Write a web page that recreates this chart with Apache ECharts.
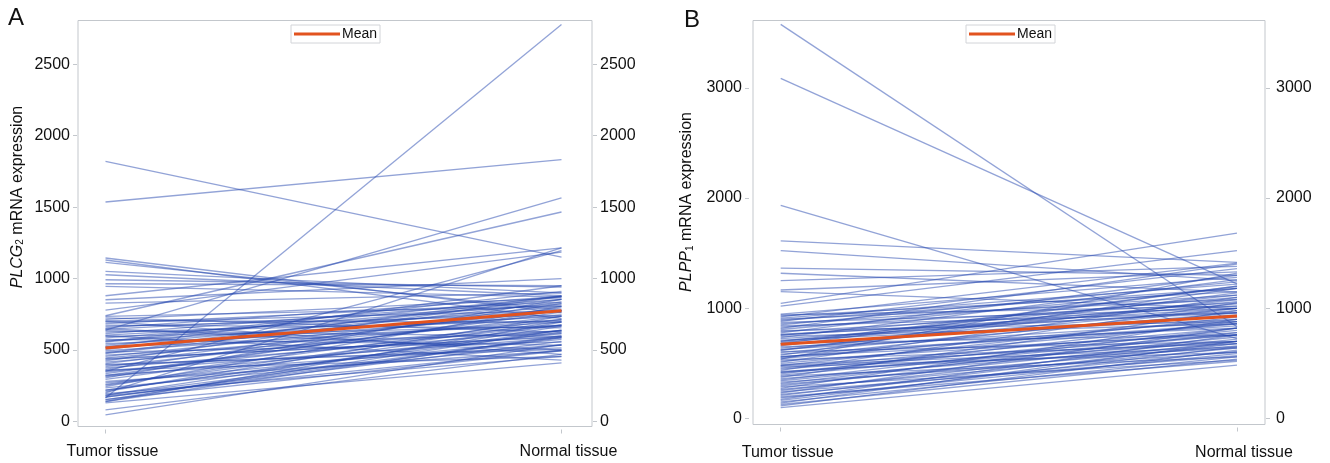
<!DOCTYPE html>
<html>
<head>
<meta charset="utf-8">
<title>PLCG2 / PLPP1 mRNA expression, tumor vs normal tissue</title>
<script src="https://cdn.jsdelivr.net/npm/echarts@6/dist/echarts.min.js"></script>
<style>
  html, body { margin: 0; padding: 0; background: #ffffff; }
  #chart { width: 1330px; height: 463px; }
</style>
</head>
<body>
<div id="chart"></div>
<script>
// Paired samples: each index is one patient (tumor value, matched normal value)
const categories = ['Tumor tissue', 'Normal tissue'];

const plcg2Tumor = [1821, 1536, 165, 1144, 1130, 1113, 1050, 1027, 992, 964, 945, 880, 852, 829, 640, 740, 200, 350, 780,
  47, 82, 131, 152, 170, 185,
  140, 155, 170, 185, 195, 210, 220, 235, 245, 255, 270, 280, 295, 305, 315, 325, 335, 345, 355, 365,
  375, 385, 395, 405, 415, 425, 435, 445, 455, 465, 475, 485, 495, 505, 515, 525, 535, 545, 555, 565,
  575, 585, 595, 605, 615, 625, 635, 645, 655, 665, 675, 685, 695, 705, 715, 725, 735,
  700, 650, 600, 560, 520, 480, 440, 400, 360, 320, 260, 220, 180, 140];
const plcg2Normal = [1150, 1833, 2778, 760, 720, 780, 900, 880, 940, 950, 870, 1215, 1000, 900, 1564, 1466, 1215, 1195, 1185,
  540, 470, 410, 640, 560, 590,
  695, 495, 585, 665, 455, 735, 625, 535, 805, 675, 575, 495, 715, 855, 615, 535, 765, 675, 585, 825,
  635, 735, 515, 795, 675, 875, 595, 715, 775, 635, 835, 555, 695, 855, 745, 615, 805, 675, 875, 735,
  535, 825, 665, 775, 855, 705, 595, 815, 875, 745, 655, 835, 775, 695, 865, 625, 805,
  470, 500, 430, 910, 950, 880, 590, 505, 455, 780, 700, 640, 500, 600];
const plcg2Mean = [514, 775];

const plpp1Tumor = [3575, 3085, 1933, 1612, 1524, 1364, 1318, 1251, 1166, 1151, 1045, 1020,
  100, 115, 128, 140, 152, 165, 175, 188, 198, 210, 220, 232, 242, 255, 265, 275, 288, 298, 310, 320,
  330, 342, 352, 362, 375, 385, 395, 405, 418, 428, 438, 448, 458, 470, 480, 490, 500, 512, 522, 532,
  545, 555, 565, 575, 585, 598, 608, 618, 628, 640, 650, 660, 672, 682, 692, 702, 712, 725, 735, 745,
  755, 765, 778, 788, 798, 808, 818, 830, 840, 850, 862, 872, 882, 892, 902, 912, 922, 932, 940, 948,
  560, 620, 700, 760, 480, 420, 680, 540];
const plpp1Normal = [833, 1221, 725, 1417, 1253, 1300, 1150, 1380, 1330, 1000, 1682, 1524,
  485, 620, 540, 700, 560, 650, 760, 590, 520, 680, 610, 820, 570, 700, 640, 900, 530, 720, 660, 780,
  600, 740, 820, 680, 980, 560, 760, 880, 700, 640, 1050, 760, 820, 600, 920, 700, 860, 1100, 780, 680,
  900, 1000, 760, 1180, 840, 960, 700, 1080, 880, 1000, 820, 1200, 940, 760, 1040, 1120, 900, 980, 1260, 860,
  1100, 960, 1300, 1020, 880, 1180, 1400, 1050, 960, 1240, 1120, 1000, 1360, 1180, 1080, 1220, 1410, 1150, 1020, 1280,
  860, 1140, 1060, 1000, 650, 800, 1200, 1320];
const plpp1Mean = [675, 930];

const plcg2Ticks = [0, 500, 1000, 1500, 2000, 2500];
const plpp1Ticks = [0, 1000, 2000, 3000];

const FONT = '"Liberation Sans", Arial, Helvetica, sans-serif';
const TEXT = '#111111';
const FRAME = '#c3c7cc';
const PAIR_COLOR = 'rgba(38, 72, 176, 0.5)';
const MEAN_COLOR = '#e2531f';

const chart = echarts.init(document.getElementById('chart'), null, { renderer: 'canvas' });

function xAxisFor(gridIndex, min, max, labelMargin) {
  return {
    type: 'value', gridIndex, min, max, offset: 3, position: 'bottom',
    axisLine: { show: false, onZero: false },
    splitLine: { show: false },
    axisTick: { show: true, length: 4, customValues: [0, 1], lineStyle: { color: FRAME } },
    axisLabel: {
      customValues: [0, 1],
      formatter: v => categories[Math.round(v)],
      fontSize: 16, color: TEXT, fontFamily: FONT,
      margin: labelMargin, padding: [0, 0, 0, 14]
    }
  };
}

function yAxisFor(gridIndex, position, min, max, ticks, offset, margin) {
  return {
    type: 'value', gridIndex, position, min, max, offset,
    axisLine: { show: false, onZero: false },
    splitLine: { show: false },
    axisTick: { show: true, length: 4, customValues: ticks, lineStyle: { color: FRAME } },
    axisLabel: {
      customValues: ticks, formatter: v => String(v),
      fontSize: 16, color: TEXT, fontFamily: FONT, margin
    }
  };
}

function pairSeries(tumor, normal, axisIdx, yIdx) {
  return tumor.map((t, i) => ({
    type: 'line', xAxisIndex: axisIdx, yAxisIndex: yIdx,
    data: [[0, t], [1, normal[i]]],
    symbol: 'none', silent: true, z: 2,
    lineStyle: { color: PAIR_COLOR, width: 1.3 }
  }));
}

function meanSeries(values, axisIdx, yIdx) {
  return {
    name: 'Mean', type: 'line', xAxisIndex: axisIdx, yAxisIndex: yIdx,
    data: [[0, values[0]], [1, values[1]]],
    symbol: 'none', silent: true, z: 5,
    color: MEAN_COLOR,
    lineStyle: { color: MEAN_COLOR, width: 3 }
  };
}

function legendAt(left) {
  return {
    data: ['Mean'], left, top: 25, icon: 'rect',
    itemWidth: 46, itemHeight: 3, padding: [2, 3, 2, 3],
    borderColor: '#d2d4d8', borderWidth: 1,
    selectedMode: false,
    textStyle: { fontSize: 14, color: TEXT, fontFamily: FONT, padding: [0, 0, 0, -3] }
  };
}

function axisTitle(x, y, gene, sub) {
  return {
    type: 'text', x, y, rotation: Math.PI / 2, silent: true,
    style: {
      text: '{i|' + gene + '}{s|' + sub + '}{n| mRNA expression}',
      align: 'center', verticalAlign: 'middle',
      fill: TEXT, fontFamily: FONT, fontSize: 16,
      rich: {
        i: { fontStyle: 'italic', fontSize: 16, fontFamily: FONT, lineHeight: 18 },
        s: { fontSize: 10, fontFamily: FONT, lineHeight: 18, verticalAlign: 'bottom', padding: [0, 0, 1, 0] },
        n: { fontSize: 16, fontFamily: FONT, lineHeight: 18 }
      }
    }
  };
}

const option = {
  animation: false,
  backgroundColor: '#ffffff',
  textStyle: { fontFamily: FONT },
  grid: [
    { left: 78, top: 20.5, width: 514, height: 406, show: true, borderColor: FRAME, borderWidth: 1 },
    { left: 753, top: 20.5, width: 512, height: 404, show: true, borderColor: FRAME, borderWidth: 1 }
  ],
  xAxis: [
    xAxisFor(0, -0.0603, 1.0669, 14),
    xAxisFor(1, -0.0607, 1.0614, 17)
  ],
  yAxis: [
    yAxisFor(0, 'left', -35, 2806, plcg2Ticks, 1, 7),
    yAxisFor(0, 'right', -35, 2806, plcg2Ticks, 1, 7),
    yAxisFor(1, 'left', -53.5, 3610, plpp1Ticks, 4, 7),
    yAxisFor(1, 'right', -53.5, 3610, plpp1Ticks, 1, 10)
  ],
  legend: [legendAt(291), legendAt(966)],
  graphic: [
    { type: 'text', x: 8, y: 6, silent: true,
      style: { text: 'A', fontSize: 24, fontFamily: FONT, fill: TEXT } },
    { type: 'text', x: 684, y: 8, silent: true,
      style: { text: 'B', fontSize: 24, fontFamily: FONT, fill: TEXT } },
    axisTitle(17.5, 197, 'PLCG', '2'),
    axisTitle(687, 202, 'PLPP', '1')
  ],
  series: [
    ...pairSeries(plcg2Tumor, plcg2Normal, 0, 0),
    meanSeries(plcg2Mean, 0, 0),
    ...pairSeries(plpp1Tumor, plpp1Normal, 1, 2),
    meanSeries(plpp1Mean, 1, 2)
  ]
};

chart.setOption(option);
</script>
</body>
</html>
